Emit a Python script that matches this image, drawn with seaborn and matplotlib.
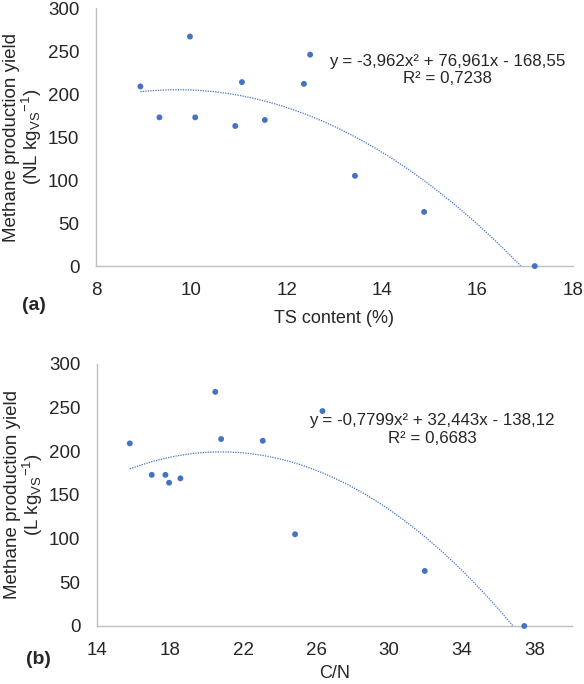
import numpy as np
import pandas as pd
import seaborn as sns
import matplotlib.pyplot as plt

# TS content (%) vs methane yield
ts = [8.93, 9.33, 9.97, 10.08, 10.92, 11.06, 11.54, 12.36, 12.49, 13.43, 14.88, 17.2]
yield_a = [209, 173, 267, 173, 163, 214, 170, 212, 246, 105, 63, 0]

# C/N ratio vs methane yield
cn = [15.8, 17.0, 17.75, 17.95, 18.57, 20.48, 20.8, 23.08, 24.85, 26.35, 31.95, 37.4]
yield_b = [209, 173, 173, 164, 169, 268, 214, 212, 105, 246, 63, 0]

# trendline coefficients as printed on the chart
coef_a = [-3.962, 76.961, -168.55]
coef_b = [-0.7799, 32.443, -138.12]
eq_a = "y = -3,962x² + 76,961x - 168,55\nR² = 0,7238"
eq_b = "y = -0,7799x² + 32,443x - 138,12\nR² = 0,6683"

blue = "#4472C4"
grey = "#BFBFBF"

sns.set_style("white")
plt.rcParams['font.family'] = ['Liberation Sans', 'DejaVu Sans']
plt.rcParams['mathtext.fontset'] = 'custom'
plt.rcParams['mathtext.rm'] = 'Liberation Sans'
plt.rcParams['mathtext.it'] = 'Liberation Sans:italic'

fig = plt.figure(figsize=(5.84, 6.84), dpi=100)
ax1 = fig.add_axes([0.1644, 0.611, 0.8166, 0.377])
ax2 = fig.add_axes([0.166, 0.0848, 0.813, 0.3832])


def trend(coef, x0):
    # draw the fitted curve from the first point to where it hits zero
    a, b, c = coef
    root = (-b - np.sqrt(b * b - 4 * a * c)) / (2 * a)
    xs = np.linspace(x0, root, 200)
    return pd.DataFrame({"x": xs, "y": a * xs ** 2 + b * xs + c})


def panel(ax, x, y, coef, eq, eq_pos, xlim, xticks, xlabel, ylabel, xpad):
    df = pd.DataFrame({"x": x, "y": y})
    fit = trend(coef, min(x))
    sns.lineplot(data=fit, x="x", y="y", ax=ax, color=blue, lw=0.9,
                 linestyle=(0, (1, 1)))
    sns.scatterplot(data=df, x="x", y="y", ax=ax, color=blue, s=18,
                    edgecolor="none", zorder=3, clip_on=False)
    ax.set_xlim(*xlim)
    ax.set_ylim(0, 300)
    ax.set_xticks(xticks)
    ax.set_yticks(range(0, 301, 50))
    ax.tick_params(length=0, labelsize=13.5)
    ax.tick_params(axis="x", pad=11.5)
    ax.tick_params(axis="y", pad=12)
    for s in ["top", "right"]:
        ax.spines[s].set_visible(False)
    for s in ["left", "bottom"]:
        ax.spines[s].set_color(grey)
        ax.spines[s].set_linewidth(1)
    ax.set_xlabel(xlabel, fontsize=13, labelpad=xpad)
    ax.set_ylabel(ylabel, fontsize=13.5, labelpad=3, linespacing=0.95)
    ax.text(eq_pos[0], eq_pos[1], eq, ha="center", va="center",
            fontsize=12.2, linespacing=1.2)


panel(ax1, ts, yield_a, coef_a, eq_a, (15.36, 228), (8, 18), range(8, 19, 2),
      "TS content (%)",
      "Methane production yield\n(NL kg$_{\\mathregular{VS}}$$^{\\mathregular{-1}}$)", 8)
panel(ax2, cn, yield_b, coef_b, eq_b, (32.36, 225), (14, 40), range(14, 39, 4),
      "C/N",
      "Methane production yield\n(L kg$_{\\mathregular{VS}}$$^{\\mathregular{-1}}$)", 4)

fig.text(22 / 584, 1 - 305 / 684, "(a)", fontsize=14, fontweight="bold",
         va="center")
fig.text(26 / 584, 1 - 659 / 684, "(b)", fontsize=14, fontweight="bold",
         va="center")

fig.savefig("out.png", dpi=100)
